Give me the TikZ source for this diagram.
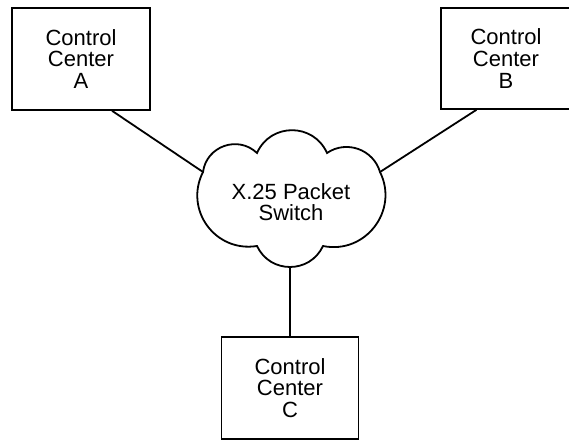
\documentclass[tikz,border=0pt]{standalone}
\usepackage{fontspec}
\setmainfont{Liberation Sans}

\begin{document}
\begin{tikzpicture}[x=1pt, y=1pt, line width=1.8pt, line cap=round,
    font=\fontsize{22}{21.7}\selectfont,
    ccbox/.style={draw, rectangle, align=center, minimum height=102pt}]
  \clip (0,0) rectangle (569,439);
  % control centers
  \node[ccbox, minimum width=138pt] (A) at (81,380) {Control\\Center\\A};
  \node[ccbox, minimum width=130pt, minimum height=101pt] (B) at (506,380.5) {Control\\Center\\B};
  \node[ccbox, minimum width=137pt] (C) at (290,51) {Control\\Center\\C};
  % packet switch cloud
  \coordinate (p1) at (203,267);
  \coordinate (n1) at (257,286);
  \coordinate (n2) at (327,286);
  \coordinate (p2) at (380,267);
  \coordinate (n3) at (323,193);
  \coordinate (n4) at (257,193);
  \coordinate (bt) at (290,172);
  \draw (p1) to[bend left=63, looseness=1.17] (n1)
    to[bend left=66, looseness=1.22] (n2)
    to[bend left=54, looseness=1.07] (p2)
    to[bend left=64, looseness=1.18] (n3)
    to[bend left=65, looseness=1.2] (n4)
    to[bend left=63, looseness=1.18] (p1);
  \node[align=center] (sw) at (291,237) {X.25 Packet\\Switch};
  \draw (A.-59) -- (p1);
  \draw (B.-120) -- (p2);
  \draw (bt) -- (C.north);
\end{tikzpicture}
\end{document}
